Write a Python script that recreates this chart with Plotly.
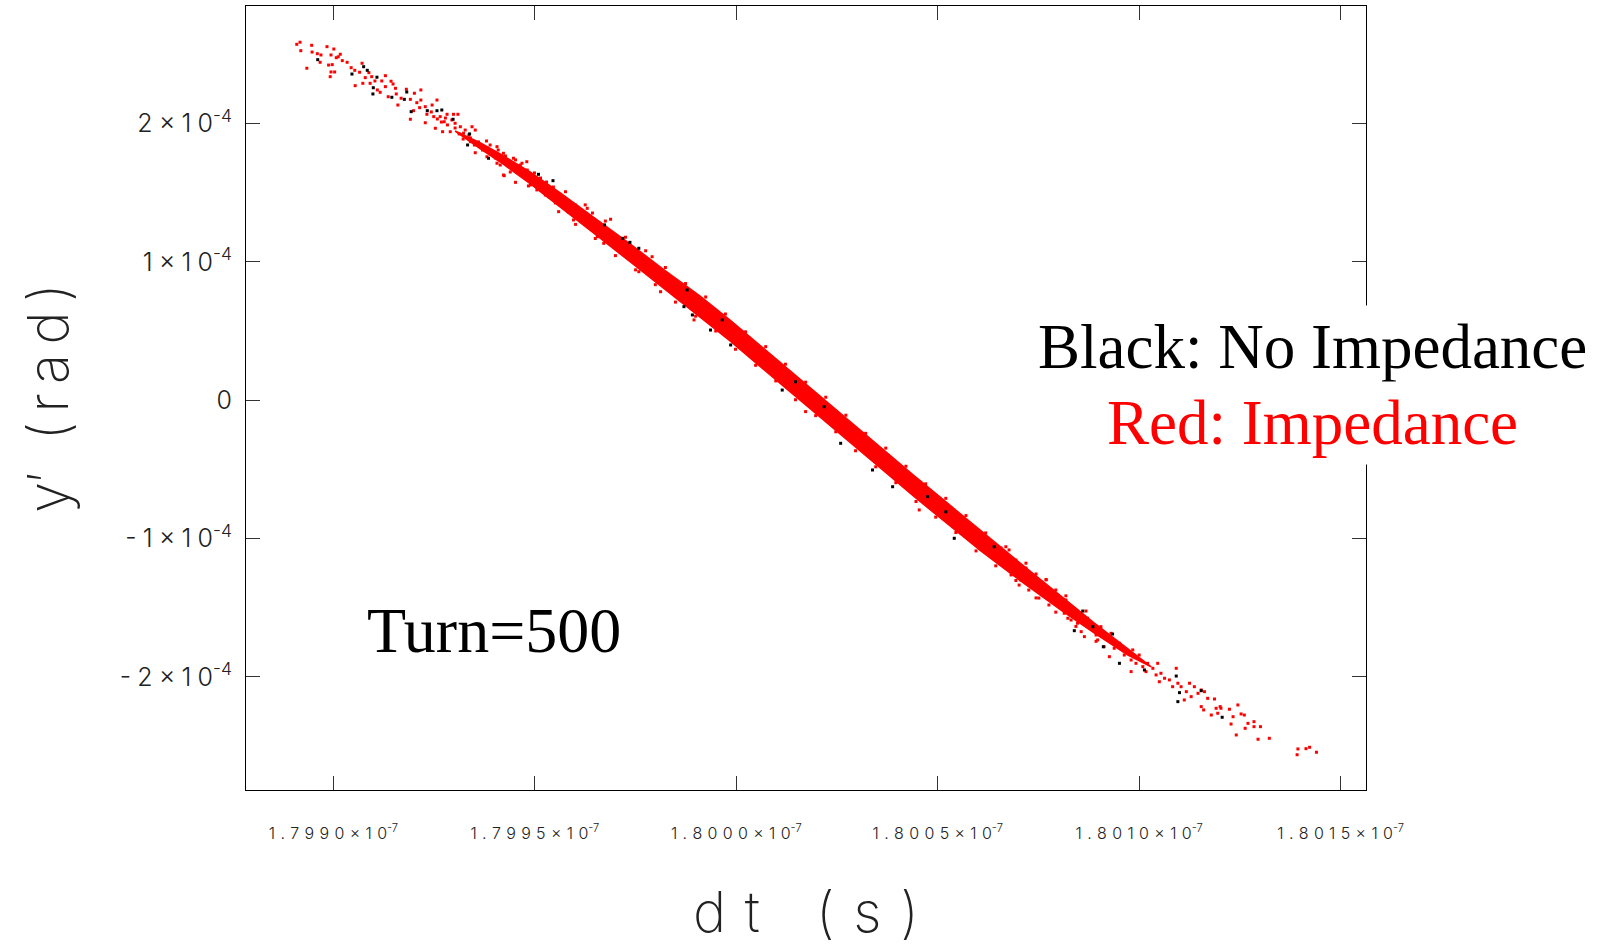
import plotly.graph_objects as go

# ---------------- data (dt in units of 1e-7 s, y' in units of 1e-4 rad) ----------------
# dense core of the distribution (upper / lower edges of the solid red band)
core_dt = [1.799302, 1.799365, 1.799414, 1.799489, 1.799563, 1.799655, 1.799737, 1.799819, 1.799911, 1.799986,
           1.800053, 1.800110, 1.800192, 1.800277, 1.800359, 1.800441, 1.800525, 1.800607, 1.800689, 1.800806,
           1.800888, 1.800972, 1.801030]
core_upper = [1.947, 1.861, 1.781, 1.650, 1.499, 1.304, 1.130, 0.946, 0.751, 0.577,
              0.411, 0.273, 0.071, -0.139, -0.341, -0.544, -0.746, -0.945, -1.140, -1.415,
              -1.610, -1.798, -1.928]
core_lower = [1.947, 1.817, 1.723, 1.564, 1.397, 1.188, 1.000, 0.808, 0.599, 0.425,
              0.259, 0.121, -0.081, -0.291, -0.493, -0.696, -0.898, -1.089, -1.270, -1.517,
              -1.682, -1.842, -1.928]

# individual red (impedance) particles outside the dense core
red_dt = [
    1.798909, 1.798917, 1.798919, 1.798946, 1.798947, 1.798934, 1.798960, 1.798969, 1.798984, 1.798994,
    1.799001, 1.799012, 1.799017, 1.799007, 1.799022, 1.798997, 1.798988, 1.798967, 1.798994, 1.799003,
    1.798992, 1.799034, 1.799044, 1.799071, 1.799053, 1.799065, 1.799054, 1.799088, 1.799079, 1.799095,
    1.799103, 1.799091, 1.799073, 1.799120, 1.799129, 1.799109, 1.799116, 1.799129, 1.799143, 1.799148,
    1.799154, 1.799136, 1.799156, 1.799160, 1.799168, 1.799181, 1.799191, 1.799201, 1.799217, 1.799207,
    1.799217, 1.799199, 1.799191, 1.799214, 1.799228, 1.799232, 1.799245, 1.799257, 1.799249, 1.799265,
    1.799275, 1.799228, 1.799253, 1.799282, 1.799298, 1.799309, 1.799294, 1.799302, 1.799315, 1.799290,
    1.799271, 1.799323, 1.799336, 1.799344, 1.799352, 1.799322, 1.799340, 1.799352, 1.799373, 1.799389,
    1.799406, 1.799381, 1.799422, 1.799431, 1.799406, 1.799447, 1.799422, 1.799456,
    1.799360, 1.799370, 1.799382, 1.799394, 1.799402, 1.799409, 1.799419, 1.799427, 1.799437, 1.799444,
    1.799452, 1.799459, 1.799464, 1.799474, 1.799481, 1.799491, 1.799499, 1.799506, 1.799514, 1.799521,
    1.799529, 1.799539, 1.799546, 1.799553, 1.799312, 1.799327, 1.799302, 1.799283, 1.799268, 1.799258,
    1.799243, 1.799278, 1.799340, 1.799350, 1.799380, 1.799414, 1.799439, 1.799484, 1.799526, 1.799551,
    1.799568, 1.799583, 1.799601, 1.799613, 1.799633, 1.799643,
    1.799688, 1.799452, 1.799424, 1.799480, 1.799468, 1.799489, 1.799505, 1.799534, 1.799559, 1.799576,
    1.799596, 1.799630, 1.799655, 1.799671, 1.799700, 1.799758, 1.799791, 1.799812, 1.799820, 1.799895,
    1.799949, 1.800027,
    1.799576, 1.799601, 1.799625, 1.799650, 1.799675, 1.799700, 1.799725, 1.799750, 1.799775, 1.799799,
    1.799824, 1.799849, 1.799874, 1.799899, 1.799924, 1.799949, 1.799973, 1.799998, 1.800023, 1.800048,
    1.800073, 1.800098, 1.800122, 1.800147, 1.800172, 1.800197, 1.800222, 1.800247, 1.800272, 1.800296,
    1.800321, 1.800346, 1.800371, 1.800396, 1.800421, 1.800446, 1.800470, 1.800495, 1.800520, 1.800545,
    1.800570, 1.800595, 1.800619, 1.800644, 1.800669, 1.800694, 1.800719, 1.800744, 1.800769, 1.800793,
    1.800818, 1.800843, 1.800868, 1.800893,
    1.800172, 1.800309, 1.800367, 1.800433, 1.800454, 1.800562, 1.800624,
    1.800644, 1.800657, 1.800669, 1.800682, 1.800694, 1.800706, 1.800719, 1.800731, 1.800744, 1.800756,
    1.800769, 1.800781, 1.800793, 1.800776, 1.800751, 1.800726, 1.800702, 1.800677, 1.800818, 1.800831,
    1.800806, 1.800814, 1.800823, 1.800839, 1.800847, 1.800856, 1.800872, 1.800864, 1.800889, 1.800893,
    1.800897, 1.800905, 1.800922, 1.800913, 1.800930, 1.800938, 1.800926, 1.800951, 1.800959, 1.800963,
    1.800976, 1.800984, 1.800980, 1.801000, 1.800992, 1.800980, 1.801009, 1.801021, 1.801017, 1.801034,
    1.801046, 1.801042, 1.801054, 1.801063, 1.801050, 1.801075, 1.801092, 1.801083, 1.801096, 1.801104,
    1.801125, 1.801137, 1.801117, 1.801129, 1.801112, 1.801146, 1.801154, 1.801162, 1.801170, 1.801154,
    1.801187, 1.801191, 1.801203, 1.801195, 1.801224, 1.801233, 1.801245, 1.801253, 1.801261, 1.801270,
    1.801285, 1.801285, 1.801301, 1.801263, 1.801241, 1.801228, 1.801323, 1.801295,
    1.801394, 1.801414, 1.801423, 1.801440, 1.801392, 1.801201, 1.801179, 1.801160,
]
red_y = [
    2.574, 2.589, 2.528, 2.567, 2.518, 2.401, 2.506, 2.497, 2.557, 2.497,
    2.540, 2.484, 2.502, 2.477, 2.456, 2.427, 2.424, 2.444, 2.374, 2.374,
    2.340, 2.444, 2.405, 2.437, 2.386, 2.372, 2.275, 2.369, 2.333, 2.340,
    2.309, 2.292, 2.292, 2.309, 2.347, 2.244, 2.227, 2.268, 2.307, 2.287,
    2.256, 2.195, 2.215, 2.135, 2.184, 2.249, 2.176, 2.220, 2.244, 2.152,
    2.171, 2.094, 2.032, 2.116, 2.123, 2.068, 2.135, 2.171, 2.051, 2.051,
    2.014, 2.007, 1.967, 2.068, 2.068, 2.068, 2.027, 2.003, 1.978, 1.942,
    1.942, 1.931, 1.918, 1.978, 1.954, 1.889, 1.870, 1.790, 1.834, 1.846,
    1.834, 1.761, 1.786, 1.725, 1.714, 1.750, 1.629, 1.689,
    1.868, 1.810, 1.824, 1.795, 1.752, 1.810, 1.738, 1.766, 1.716, 1.680,
    1.738, 1.658, 1.701, 1.629, 1.665, 1.593, 1.644, 1.571, 1.607, 1.535,
    1.578, 1.506, 1.542, 1.470, 1.926, 1.954, 1.969, 1.991, 2.012, 2.034,
    2.085, 2.041, 1.897, 1.846, 1.875, 1.701, 1.651, 1.550, 1.484, 1.427,
    1.448, 1.362, 1.412, 1.333, 1.289, 1.354,
    1.309, 1.576, 1.624, 1.725, 1.714, 1.557, 1.521, 1.472, 1.364, 1.400,
    1.304, 1.388, 1.183, 1.135, 1.099, 0.930, 1.038, 0.785, 0.918, 0.581,
    0.641, 0.424,
    1.508, 1.272, 1.413, 1.170, 1.296, 1.046, 1.179, 0.943, 1.081, 0.836,
    0.960, 0.710, 0.844, 0.608, 0.747, 0.501, 0.624, 0.369, 0.495, 0.253,
    0.388, 0.140, 0.261, 0.004, 0.131, -0.111, 0.022, -0.228, -0.108, -0.365,
    -0.239, -0.481, -0.346, -0.596, -0.477, -0.732, -0.604, -0.845, -0.709, -0.956,
    -0.834, -1.089, -0.959, -1.197, -1.059, -1.303, -1.178, -1.429, -1.296, -1.532,
    -1.414, -1.635, -1.524, -1.743,
    -0.082, -0.275, -0.419, -0.589, -0.793, -0.938, -1.106,
    -1.155, -1.068, -1.176, -1.263, -1.155, -1.299, -1.213, -1.336, -1.256, -1.372,
    -1.299, -1.415, -1.372, -1.480, -1.430, -1.372, -1.336, -1.082, -1.444, -1.589,
    -1.468, -1.540, -1.576, -1.516, -1.612, -1.673, -1.576, -1.709, -1.649, -1.697,
    -1.733, -1.637, -1.733, -1.782, -1.685, -1.793, -1.854, -1.757, -1.782, -1.842,
    -1.818, -1.805, -1.878, -1.842, -1.902, -1.962, -1.926, -1.902, -1.962, -1.938,
    -1.902, -1.986, -1.974, -2.010, -2.035, -2.022, -1.938, -2.071, -2.046, -2.071,
    -2.046, -2.071, -2.107, -2.143, -2.167, -2.119, -2.095, -2.107, -2.155, -2.215,
    -2.160, -2.227, -2.227, -2.263, -2.234, -2.288, -2.203, -2.268, -2.276, -2.336,
    -2.324, -2.360, -2.360, -2.372, -2.420, -2.341, -2.444, -2.451,
    -2.521, -2.519, -2.509, -2.545, -2.563, -2.215, -2.276, -2.239,
]

# black (no impedance) particles visible around the band
black_dt = [
    1.798961, 1.799046, 1.799075, 1.799084, 1.799099, 1.799098, 1.799108, 1.799145, 1.799176, 1.799182,
    1.799193, 1.799233, 1.799257, 1.799269, 1.799297, 1.799338, 1.799333, 1.799385,
    1.799545, 1.799509, 1.799673, 1.799718, 1.799736, 1.799758, 1.799878, 1.799870, 1.799891, 1.799936,
    1.799965, 1.799986,
    1.800147, 1.800114, 1.800218, 1.800259, 1.800338, 1.800388, 1.800475, 1.800520, 1.800541, 1.800640,
    1.800860, 1.800839, 1.800885, 1.800934, 1.800911, 1.800951, 1.801013, 1.801092, 1.801100, 1.801096,
    1.801154, 1.801206,
]
black_y = [
    2.463, 2.359, 2.412, 2.386, 2.260, 2.215, 2.336, 2.191, 2.176, 2.229,
    2.087, 2.094, 2.094, 2.099, 2.032, 1.926, 1.846, 1.750,
    1.588, 1.634, 1.268, 1.171, 1.142, 1.099, 0.798, 0.677, 0.617, 0.508,
    0.581, 0.400,
    0.134, 0.074, -0.046, -0.311, -0.504, -0.625, -0.697, -0.806, -0.998, -1.059,
    -1.524, -1.666, -1.637, -1.690, -1.782, -1.902, -1.950, -1.994, -2.114, -2.179,
    -2.100, -2.292,
]

x_tick_vals = [1.7990, 1.7995, 1.8000, 1.8005, 1.8010, 1.8015]
x_tick_text = ["1.7990", "1.7995", "1.8000", "1.8005", "1.8010", "1.8015"]
y_tick_vals = [-2, -1, 0, 1, 2]
y_tick_mant = ["-2", "-1", "0", "1", "2"]

XS = 1e-7   # seconds per dt unit
YS = 1e-4   # rad per y' unit


def sx(vals):
    return [v * XS for v in vals]


def sy(vals):
    return [v * YS for v in vals]


def spaced(s, sp):
    return sp.join(list(s))


x_labels = [spaced(t + "×10", "\u2004") + "<sup>-7</sup>" for t in x_tick_text]
y_labels = [("0" if m == "0" else spaced(m + "×10", "\u2005") + "<sup>-4</sup>") for m in y_tick_mant]

fig = go.Figure()

fig.add_trace(go.Scatter(
    x=sx(core_dt + core_dt[::-1]), y=sy(core_upper + core_lower[::-1]),
    mode="lines", fill="toself", fillcolor="#ff0000",
    line=dict(color="#ff0000", width=1.5), hoverinfo="skip", showlegend=False))

fig.add_trace(go.Scatter(
    x=sx(red_dt), y=sy(red_y), mode="markers",
    marker=dict(color="#ff0000", size=3, symbol="square", line=dict(width=0)),
    showlegend=False))

fig.add_trace(go.Scatter(
    x=sx(black_dt), y=sy(black_y), mode="markers",
    marker=dict(color="#000000", size=3, symbol="square", line=dict(width=0)),
    showlegend=False))

thin = "Inter, DejaVu Sans, sans-serif"
serif = "Liberation Serif, Times New Roman, serif"

fig.update_layout(
    width=1610, height=951,
    margin=dict(l=246, r=244, t=6, b=161),
    paper_bgcolor="white", plot_bgcolor="white",
    showlegend=False,
    xaxis=dict(
        range=[1.798783e-7, 1.801563e-7],
        tickvals=sx(x_tick_vals),
        ticktext=x_labels,
        ticks="inside", ticklen=14, tickwidth=1, tickcolor="#333",
        showline=True, linecolor="black", linewidth=1, mirror="ticks",
        showgrid=False, zeroline=False,
        tickfont=dict(family=thin, size=16, color="#222", weight=300),
        ticklabelstandoff=29,
    ),
    yaxis=dict(
        range=[-2.818e-4, 2.851e-4],
        tickvals=sy(y_tick_vals),
        ticktext=y_labels,
        ticks="inside", ticklen=14, tickwidth=1, tickcolor="#333",
        showline=True, linecolor="black", linewidth=1, mirror="ticks",
        showgrid=False, zeroline=False,
        tickfont=dict(family=thin, size=25, color="#222", weight=300),
        ticklabelstandoff=8,
    ),
)

annotations = [
    dict(text="d\u2004t\u2003(\u2004s\u2004)", x=0.5, y=-0.156, xref="paper", yref="paper",
         xanchor="center", yanchor="middle", showarrow=False,
         font=dict(family=thin, size=56, color="#222", weight=200)),
    dict(text="y′  (\u2006r\u2006a\u2006d\u2006)", x=-0.177, y=0.5, xref="paper", yref="paper",
         xanchor="center", yanchor="middle", textangle=-90, showarrow=False,
         font=dict(family=thin, size=56, color="#222", weight=200)),
    dict(text="Black: No Impedance", x=0.952, y=0.565, xref="paper", yref="paper",
         xanchor="center", yanchor="middle", showarrow=False, bgcolor="white", borderpad=6,
         font=dict(family=serif, size=63, color="black")),
    dict(text="Red: Impedance", x=0.952, y=0.4675, xref="paper", yref="paper",
         xanchor="center", yanchor="middle", showarrow=False, bgcolor="white", borderpad=6,
         font=dict(family=serif, size=63, color="#ff0000")),
    dict(text="Turn=500", x=0.2214, y=0.203, xref="paper", yref="paper",
         xanchor="center", yanchor="middle", showarrow=False,
         font=dict(family=serif, size=64, color="black")),
]
fig.update_layout(annotations=annotations)

fig.write_html("out.html")
